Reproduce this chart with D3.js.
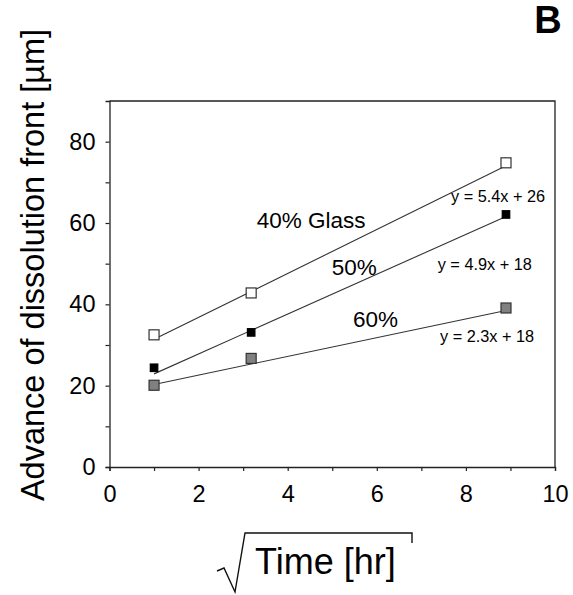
<!DOCTYPE html>
<html>
<head>
<meta charset="utf-8">
<script src="https://cdn.jsdelivr.net/npm/d3@7"></script>
<style>
  body { margin: 0; background: #fff; }
  svg text { font-family: "Liberation Sans", Arial, sans-serif; fill: #000; }
</style>
</head>
<body>
<div id="chart"></div>
<script>
// data
const series = ["40% Glass", "50%", "60%"];
const sqrtTime = [1.0, 3.18, 8.9];
const glass40 = [32.5, 42.8, 74.8];
const glass50 = [24.4, 33.1, 62.1];
const glass60 = [20.1, 26.7, 39.1];
const slopes = [5.4, 4.9, 2.3];
const intercepts = [26, 18, 18];
const equations = ["y = 5.4x + 26", "y = 4.9x + 18", "y = 2.3x + 18"];
const xTicks = [0, 2, 4, 6, 8, 10];
const yTicks = [0, 20, 40, 60, 80];

const W = 573, H = 595;
const margin = {top: 101, right: 18, bottom: 128, left: 109.5};
const width = W - margin.left - margin.right;
const height = H - margin.top - margin.bottom;

const svg = d3.select("#chart").append("svg")
    .attr("width", W)
    .attr("height", H);

const g = svg.append("g")
    .attr("transform", "translate(" + margin.left + "," + margin.top + ")");

const xScale = d3.scaleLinear().domain([0, 10]).range([0, width]);
const yScale = d3.scaleLinear().domain([0, 90]).range([height, 0]);

// frame (top + right)
g.append("path")
    .attr("d", "M0,0H" + width + "V" + height)
    .attr("fill", "none")
    .attr("stroke", "#222")
    .attr("stroke-width", 1.3);

// x axis: minor ticks every 1, labels on even numbers
const xAxis = d3.axisBottom(xScale)
    .tickValues(d3.range(0, 11, 1))
    .tickSize(4)
    .tickPadding(14)
    .tickFormat(d => xTicks.includes(d) ? d : "");
const xAxisG = g.append("g")
    .attr("class", "xAxisG")
    .attr("transform", "translate(0," + height + ")")
    .call(xAxis);

const yAxis = d3.axisLeft(yScale)
    .tickValues(d3.range(0, 81, 10))
    .tickSize(4)
    .tickPadding(10)
    .tickFormat(d => yTicks.includes(d) ? d : "");
const yAxisG = g.append("g")
    .attr("class", "yAxisG")
    .call(yAxis);

[xAxisG, yAxisG].forEach(ax => {
    ax.select(".domain").attr("stroke", "#222").attr("stroke-width", 1.3);
    ax.selectAll(".tick line").attr("stroke", "#222").attr("stroke-width", 1.2);
    ax.selectAll(".tick text")
        .style("font-family", "'Liberation Sans', Arial, sans-serif")
        .style("font-size", "23.5px")
        .attr("fill", "#000");
});

// trend lines
const xStart = d3.min(sqrtTime), xEnd = d3.max(sqrtTime);
series.forEach((s, i) => {
    g.append("line")
        .attr("x1", xScale(xStart))
        .attr("y1", yScale(slopes[i] * xStart + intercepts[i]))
        .attr("x2", xScale(xEnd))
        .attr("y2", yScale(slopes[i] * xEnd + intercepts[i]))
        .attr("stroke", "#333")
        .attr("stroke-width", 1.1);
});

// markers
const markerStyle = [
    {data: glass40, size: 10, fill: "#fff", stroke: "#333"},
    {data: glass50, size: 7.5, fill: "#000", stroke: "#000"},
    {data: glass60, size: 10, fill: "#808080", stroke: "#333"}
];
markerStyle.forEach(m => {
    g.selectAll(null)
        .data(sqrtTime.map((t, j) => ({x: t, y: m.data[j]})))
        .join("rect")
        .attr("x", d => xScale(d.x) - m.size / 2)
        .attr("y", d => yScale(d.y) - m.size / 2)
        .attr("width", m.size)
        .attr("height", m.size)
        .attr("fill", m.fill)
        .attr("stroke", m.stroke)
        .attr("stroke-width", 1.2);
});

// series labels
const labelPos = [[147.2, 126.7], [222.2, 174], [243.5, 225.7]];
series.forEach((s, i) => {
    g.append("text")
        .attr("x", labelPos[i][0])
        .attr("y", labelPos[i][1])
        .style("font-size", "22.5px")
        .text(s);
});

// equations
const eqPos = [[341.5, 100.7], [328.2, 169], [330.5, 240.7]];
equations.forEach((e, i) => {
    g.append("text")
        .attr("x", eqPos[i][0])
        .attr("y", eqPos[i][1])
        .style("font-size", "16.3px")
        .text(e);
});

// y title
svg.append("text")
    .attr("transform", "translate(43.5,265) rotate(-90)")
    .attr("text-anchor", "middle")
    .style("font-size", "32.5px")
    .text("Advance of dissolution front [µm]");

// x title with square root sign
svg.append("path")
    .attr("d", "M217,571 L224,568 L235,592 L245,533 L412,533 L412,543")
    .attr("fill", "none")
    .attr("stroke", "#111")
    .attr("stroke-width", 1.4);
svg.append("text")
    .attr("x", 255)
    .attr("y", 574)
    .style("font-size", "36px")
    .text("Time [hr]");

// panel letter
svg.append("text")
    .attr("x", 548)
    .attr("y", 33)
    .attr("text-anchor", "middle")
    .style("font-size", "38px")
    .style("font-weight", "bold")
    .text("B");
</script>
</body>
</html>
